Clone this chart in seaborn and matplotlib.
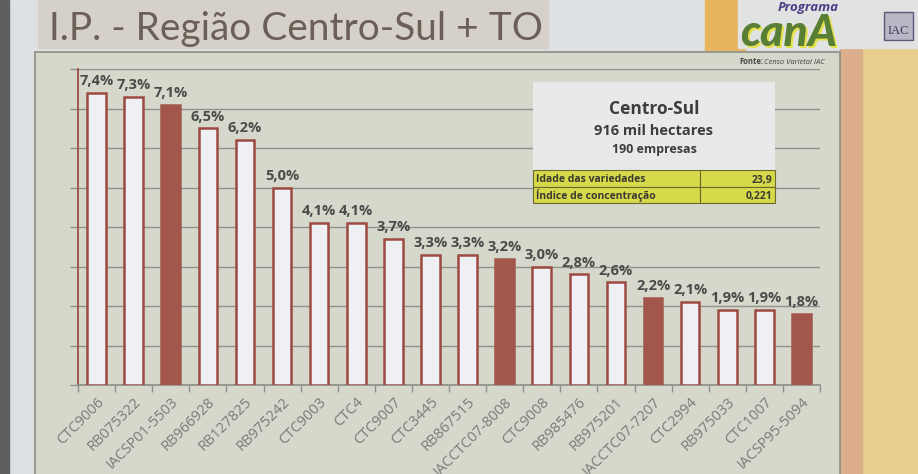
import numpy as np
import pandas as pd
import matplotlib.pyplot as plt
import seaborn as sns
from matplotlib.patches import Rectangle

variedades = [
    "CTC9006", "RB075322", "IACSP01-5503", "RB966928", "RB127825",
    "RB975242", "CTC9003", "CTC4", "CTC9007", "CTC3445",
    "RB867515", "IACCTC07-8008", "CTC9008", "RB985476", "RB975201",
    "IACCTC07-7207", "CTC2994", "RB975033", "CTC1007", "IACSP95-5094",
]
area_pct = [7.4, 7.3, 7.1, 6.5, 6.2, 5.0, 4.1, 4.1, 3.7, 3.3,
            3.3, 3.2, 3.0, 2.8, 2.6, 2.2, 2.1, 1.9, 1.9, 1.8]
iac = ["IACSP01-5503", "IACCTC07-8008", "IACCTC07-7207", "IACSP95-5094"]

resumo_titulo = ["Centro-Sul", "916 mil hectares", "190 empresas"]
tabela_rotulos = ["Idade das variedades", "Índice de concentração"]
tabela_valores = ["23,9", "0,221"]

W, H = 918, 474
sns.set_theme(style="white")
plt.rcParams["font.family"] = ["Open Sans", "DejaVu Sans"]

fig = plt.figure(figsize=(W / 100, H / 100), dpi=100)
fig.patch.set_facecolor("#dde1e4")


def box(x, y, w, h, zorder=0, **kw):
    # pixel coords (top-left origin) -> figure rectangle
    fig.patches.append(Rectangle((x / W, 1 - (y + h) / H), w / W, h / H,
                                 transform=fig.transFigure, figure=fig,
                                 zorder=zorder, **kw))


def ftext(x, y, s, **kw):
    return fig.text(x / W, 1 - y / H, s, **kw)


# slide background pieces
box(0, 0, 9, 474, color="#5f605d")
box(840, 48, 78, 426, color="#e8cf8e")
box(840, 48, 22, 426, color="#dcae8c")
box(705, 0, 40, 50, color="#e7b45e")
box(738, 0, 180, 48, color="#e1e3e3")
box(38, 0, 510, 48, color="#d5d1c8")
box(35, 52, 805, 430, facecolor="#d6d8cc", edgecolor="#8c8c84", lw=1.2)

ftext(49, 40, "I.P. - Região Centro-Sul + TO", fontsize=28, color="#6b5f57",
      family=["Lato", "DejaVu Sans"])

# logo
ftext(778, 11, "Programa", fontsize=9.5, color="#4a3f86", style="italic", weight="bold")
ftext(742, 48, "canA", fontsize=32, color="#e4e04a", style="italic", weight="black",
      family=["Lato", "DejaVu Sans"])
ftext(740, 46, "canA", fontsize=32, color="#587f35", style="italic", weight="black",
      family=["Lato", "DejaVu Sans"])
box(884, 12, 29, 28, zorder=1, facecolor="#b9b6c6", edgecolor="#5f5878", lw=1)
ftext(898, 34, "IAC", fontsize=9, color="#3e3658", ha="center", family="Liberation Serif")

# source
ftext(739, 64, "Fonte:", fontsize=5.5, color="#444444", weight="bold")
ftext(764, 64, "Censo Varietal IAC", fontsize=5.5, color="#444444", style="italic")

# main chart
ax = fig.add_axes([78 / W, 1 - 385 / H, 742 / W, 316 / H], zorder=2)
ax.set_facecolor("none")
df = pd.DataFrame({"variedade": variedades, "area": area_pct})
sns.barplot(data=df, x="variedade", y="area", width=0.5, ax=ax,
            color="#eef0f4", zorder=3)
for p, nome in zip(ax.patches, variedades):
    p.set_edgecolor("#9c4a42")
    p.set_linewidth(1.8)
    if nome in iac:
        p.set_facecolor("#a3574c")
        p.set_edgecolor("#a3574c")

for i, v in enumerate(area_pct):
    ax.text(i, v + 0.12, f"{v:.1f}%".replace(".", ","), ha="center", va="bottom",
            fontsize=10.5, weight="bold", color="#4a4a48", zorder=4)

ax.set_xlim(-0.5, len(variedades) - 0.5)
ax.set_ylim(0, 8)
ax.set_yticks(np.arange(0, 9, 1))
ax.set_yticklabels([])
ax.yaxis.grid(True, color="#8f918a", lw=1, zorder=0)
ax.tick_params(axis="y", left=True, length=6, color="#8f918a", width=1)
ax.set_xticks(np.arange(len(variedades)))
ax.set_xticklabels(variedades, rotation=45, ha="right", rotation_mode="anchor",
                   fontsize=10.5, color="#7a7b77")
ax.set_xticks(np.arange(-0.5, len(variedades)), minor=True)
ax.tick_params(axis="x", which="major", length=0, pad=7)
ax.tick_params(axis="x", which="minor", bottom=True, length=5, color="#8f918a", width=1)
ax.set_xlabel("")
ax.set_ylabel("")
for s in ["top", "right"]:
    ax.spines[s].set_visible(False)
ax.spines["bottom"].set_color("#8f918a")
ax.spines["left"].set_color("#9c4a42")

# summary box (above the chart)
box(533, 82, 242, 88, zorder=5, facecolor="#e7e9ea", edgecolor="none")
ftext(654, 114, resumo_titulo[0], fontsize=12.5, weight="bold", color="#3d3d3b", ha="center", zorder=6)
ftext(654, 135, resumo_titulo[1], fontsize=10.5, weight="bold", color="#3d3d3b", ha="center", zorder=6)
ftext(654, 153, resumo_titulo[2], fontsize=9, weight="bold", color="#3d3d3b", ha="center", zorder=6)
for r, (rot, val) in enumerate(zip(tabela_rotulos, tabela_valores)):
    y0 = 170 + r * 16.5
    box(533, y0, 167, 16.5, zorder=5, facecolor="#d6d94a", edgecolor="#6b6a2e", lw=0.8)
    box(700, y0, 75, 16.5, zorder=5, facecolor="#d6d94a", edgecolor="#6b6a2e", lw=0.8)
    ftext(536, y0 + 12.5, rot, fontsize=7.5, weight="bold", color="#3a3a30", zorder=6)
    ftext(772, y0 + 12.5, val, fontsize=7.5, weight="bold", color="#3a3a30", ha="right", zorder=6)

fig.savefig("out.png", dpi=100, facecolor=fig.get_facecolor())
